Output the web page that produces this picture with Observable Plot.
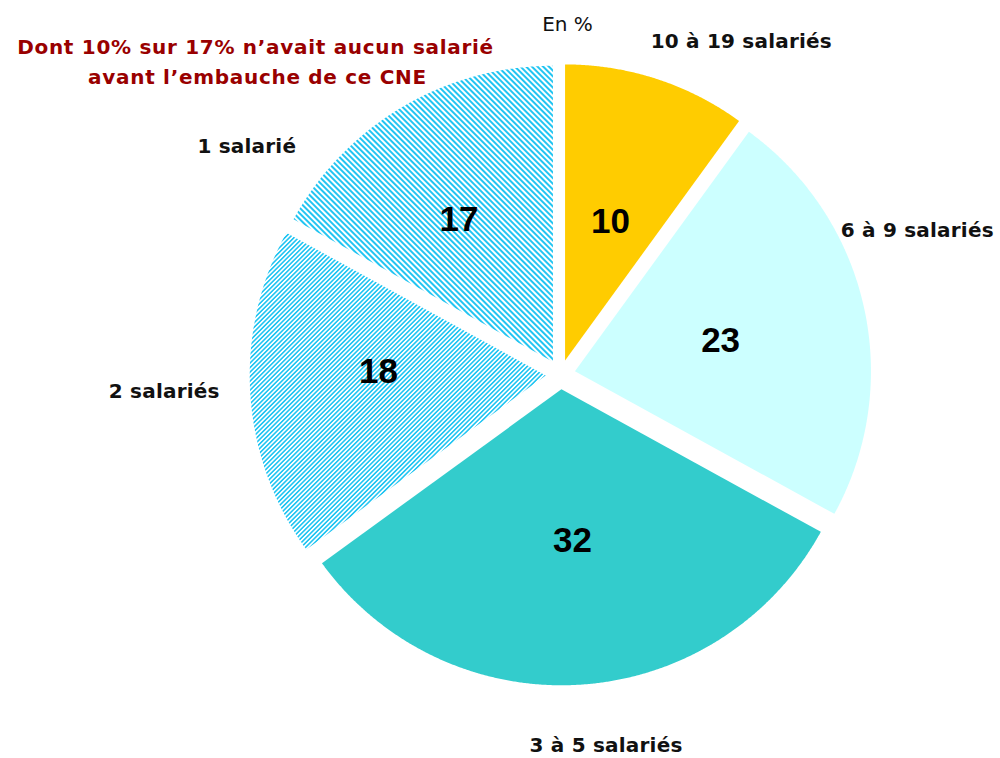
<!DOCTYPE html>
<html>
<head>
<meta charset="utf-8">
<script src="https://cdn.jsdelivr.net/npm/d3@7"></script>
<script src="https://cdn.jsdelivr.net/npm/@observablehq/plot@0.6"></script>
<style>
  html, body { margin: 0; padding: 0; background: #ffffff; }
  #chart svg { display: block; }
</style>
</head>
<body>
<div id="chart"></div>
<script>
// ---- Data ----
const categories = ["10 à 19 salariés", "6 à 9 salariés", "3 à 5 salariés", "2 salariés", "1 salarié"];
const values = [10, 23, 32, 18, 17];
const sliceFills = ["#ffcc00", "#ccffff", "#33cccc", "url(#hatch18)", "url(#hatch17)"];
const unitLabel = "En %";
const noteLines = ["Dont 10% sur 17% n\u2019avait aucun salarié", "avant l\u2019embauche de ce CNE"];
// label placement (angle in degrees clockwise from top, radius in pie radii)
const labelAngles = [28.5, 68, 173, 267.5, 306];
const labelRadii = [1.28, 1.30, 1.262, 1.34, 1.31];
const valueAngles = [18.1, 78, 175.9, 271, 326.7];
const valueRadii = [0.544, 0.553, 0.564, 0.615, 0.625];

// ---- Layout ----
const W = 1000, H = 758;
const CX = 560, CY = 374, R = 296;
const explode = 0.05;
const X = px => (px - CX) / R;
const Y = py => (CY - py) / R;

const pie = d3.pie().sort(null).value(d => d.value)(
  categories.map((c, i) => ({category: c, value: values[i]}))
);

const slicePts = [];
const valueLabels = [];
const catLabels = [];
pie.forEach((p, i) => {
  const mid = (p.startAngle + p.endAngle) / 2;
  const ox = explode * Math.sin(mid), oy = explode * Math.cos(mid);
  const cat = p.data.category;
  slicePts.push({category: cat, x: ox, y: oy});
  const steps = Math.max(2, Math.ceil((p.endAngle - p.startAngle) / (Math.PI / 720)));
  for (let k = 0; k <= steps; k++) {
    const a = p.startAngle + (p.endAngle - p.startAngle) * k / steps;
    slicePts.push({category: cat, x: ox + Math.sin(a), y: oy + Math.cos(a)});
  }
  const va = valueAngles[i] * Math.PI / 180;
  valueLabels.push({text: String(p.data.value), x: valueRadii[i] * Math.sin(va), y: valueRadii[i] * Math.cos(va)});
  const la = labelAngles[i] * Math.PI / 180;
  catLabels.push({text: cat, x: labelRadii[i] * Math.sin(la), y: labelRadii[i] * Math.cos(la)});
});

const svg = Plot.plot({
  width: W,
  height: H,
  margin: 0,
  x: {domain: [X(0), X(W)], axis: null},
  y: {domain: [Y(H), Y(0)], axis: null},
  color: {domain: categories, range: sliceFills},
  style: {background: "#ffffff"},
  marks: [
    Plot.line(slicePts, {x: "x", y: "y", z: "category", fill: "category", stroke: "none", curve: "linear"}),
    Plot.text(valueLabels, {x: "x", y: "y", text: "text", fontFamily: "Liberation Sans, Arial, sans-serif", fontWeight: "bold", fontSize: 35, fill: "#000000"}),
    Plot.text(catLabels, {x: "x", y: "y", text: "text", fontFamily: "DejaVu Sans, sans-serif", fontWeight: "bold", fontSize: 20, fill: "#111111"}),
    Plot.text([unitLabel], {x: X(567), y: Y(24), text: d => d, fontFamily: "DejaVu Sans, sans-serif", fontSize: 20, fill: "#111112"}),
    Plot.text(noteLines, {x: [X(255), X(257)], y: [Y(47), Y(77)], text: d => d, fontFamily: "DejaVu Sans, sans-serif", fontWeight: "bold", fontSize: 20, fill: "#990000"})
  ]
});

// letter spacing tweaks
svg.querySelectorAll('g[fill="#990000"]').forEach(g => g.setAttribute("letter-spacing", "0.7"));
svg.querySelectorAll('g[fill="#111111"]').forEach(g => g.setAttribute("letter-spacing", "0.2"));

// hatch patterns
const defs = d3.create("svg:defs");
function hatch(id, period, angle, color) {
  const pat = defs.append("pattern")
    .attr("id", id)
    .attr("patternUnits", "userSpaceOnUse")
    .attr("width", period)
    .attr("height", 10)
    .attr("patternTransform", `rotate(${angle})`);
  pat.append("rect").attr("width", period).attr("height", 10).attr("fill", "#ffffff");
  pat.append("rect").attr("width", period * 0.5).attr("height", 10).attr("fill", color);
}
hatch("hatch17", 4.0, -45, "#22c5f2");
hatch("hatch18", 3.2, 45, "#22c5f2");
svg.insertBefore(defs.node(), svg.firstChild);

document.getElementById("chart").appendChild(svg);
</script>
</body>
</html>
